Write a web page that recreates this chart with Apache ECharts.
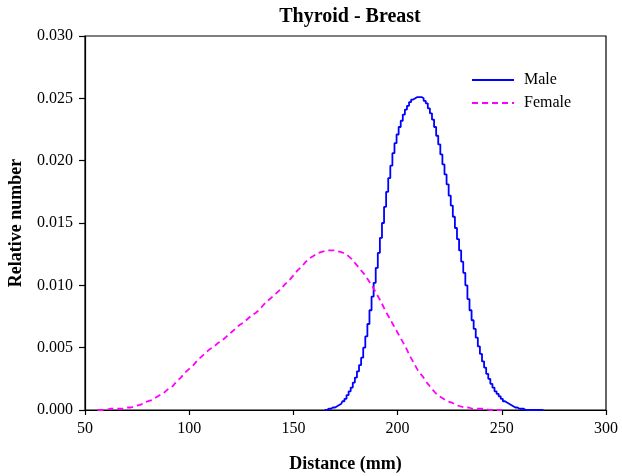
<!DOCTYPE html>
<html>
<head>
<meta charset="utf-8">
<script src="https://cdn.jsdelivr.net/npm/echarts@6/dist/echarts.min.js"></script>
<style>html,body{margin:0;padding:0;background:#fff}#c{width:622px;height:476px}</style>
</head>
<body>
<div id="c"></div>
<script>
const title = "Thyroid - Breast";
const xName = "Distance (mm)";
const yName = "Relative number";
const xTicks = [50, 100, 150, 200, 250, 300];
const yTicks = [0.000, 0.005, 0.010, 0.015, 0.020, 0.025, 0.030];

// Male: 1 mm bins starting at 165 mm
const maleStart = 165;
const maleValues = [
  0.0000,0.0000,0.0001,0.0001,0.0002,0.0002,0.0003,0.0004,0.0005,0.0007,
  0.0009,0.0012,0.0015,0.0018,0.0022,0.0026,0.0031,0.0036,0.0042,0.0050,
  0.0059,0.0069,0.0080,0.0091,0.0102,0.0114,0.0126,0.0138,0.0150,0.0163,
  0.0175,0.0186,0.0196,0.0206,0.0214,0.0221,0.0227,0.0232,0.0237,0.0241,
  0.0244,0.0247,0.0249,0.0250,0.0251,0.0251,0.0251,0.0250,0.0248,0.0246,
  0.0242,0.0238,0.0233,0.0227,0.0220,0.0213,0.0205,0.0197,0.0189,0.0181,
  0.0172,0.0164,0.0155,0.0146,0.0137,0.0128,0.0119,0.0110,0.0100,0.0089,
  0.0080,0.0072,0.0065,0.0058,0.0051,0.0045,0.0039,0.0034,0.0029,0.0025,
  0.0021,0.0018,0.0015,0.0013,0.0011,0.0009,0.0007,0.0006,0.0005,0.0004,
  0.0003,0.0002,0.0002,0.0001,0.0001,0.0001,0.0000,0.0000,0.0000,0.0000,
  0.0000,0.0000,0.0000,0.0000,0.0000,0.0000
];

// Female: 2 mm spacing starting at 56 mm
const femaleStart = 56;
const femaleStep = 2;
const femaleValues = [
  0.0000,0.0000,0.0000,0.0001,0.0001,0.0001,0.0001,0.0002,0.0002,0.0003,
  0.0004,0.0005,0.0007,0.0008,0.0010,0.0012,0.0014,0.0017,0.0019,0.0023,
  0.0026,0.0030,0.0033,0.0036,0.0040,0.0043,0.0046,0.0049,0.0051,0.0054,
  0.0056,0.0059,0.0062,0.0065,0.0068,0.0070,0.0073,0.0076,0.0078,0.0081,
  0.0085,0.0088,0.0091,0.0094,0.0097,0.0101,0.0104,0.0108,0.0112,0.0115,
  0.0119,0.0122,0.0124,0.0126,0.0127,0.0128,0.0128,0.0128,0.0127,0.0126,
  0.0124,0.0121,0.0117,0.0113,0.0109,0.0104,0.0099,0.0093,0.0087,0.0080,
  0.0074,0.0068,0.0062,0.0056,0.0050,0.0043,0.0037,0.0031,0.0027,0.0022,
  0.0018,0.0014,0.0011,0.0009,0.0007,0.0006,0.0004,0.0003,0.0002,0.0002,
  0.0001,0.0001,0.0001,0.0001,0.0000,0.0000,0.0000,0.0000
];

const maleData = maleValues.map((v, i) => [maleStart + i, v]);
const femaleData = femaleValues.map((v, i) => [femaleStart + i * femaleStep, v]);

const font = "'Liberation Serif', 'Times New Roman', serif";
const chart = echarts.init(document.getElementById('c'), null, {renderer: 'canvas'});
chart.setOption({
  animation: false,
  backgroundColor: '#fff',
  title: {
    text: title, left: 345, top: 2, textAlign: 'center',
    textStyle: {fontFamily: font, fontWeight: 'bold', fontSize: 20, color: '#000'}
  },
  legend: {
    orient: 'vertical', left: 466, top: 67, itemWidth: 42, itemHeight: 14, itemGap: 7,
    itemStyle: {opacity: 0},
    textStyle: {fontFamily: font, fontSize: 16, color: '#000', padding: [0, 0, 0, 5]},
    data: ['Male', 'Female']
  },
  grid: {left: 85, right: 16, top: 36, bottom: 66, outerBoundsMode: 'none', containLabel: false,
    show: true, borderColor: '#000', borderWidth: 1.2, backgroundColor: 'transparent'},
  xAxis: {
    type: 'value', min: xTicks[0], max: xTicks[xTicks.length - 1], interval: 50,
    name: xName, nameLocation: 'middle', nameGap: 45,
    nameTextStyle: {fontFamily: font, fontWeight: 'bold', fontSize: 18, color: '#000'},
    axisLine: {show: true, lineStyle: {color: '#000', width: 1.2}},
    axisTick: {show: true, inside: false, length: 5, lineStyle: {color: '#000', width: 1.2}},
    axisLabel: {fontFamily: font, fontSize: 16, color: '#000', margin: 11},
    splitLine: {show: false}
  },
  yAxis: {
    type: 'value', min: yTicks[0], max: yTicks[yTicks.length - 1], interval: 0.005,
    name: yName, nameLocation: 'middle', nameGap: 60, nameRotate: 90,
    nameTextStyle: {fontFamily: font, fontWeight: 'bold', fontSize: 18, color: '#000'},
    axisLine: {show: true, lineStyle: {color: '#000', width: 1.2}},
    axisTick: {show: true, inside: false, length: 6, lineStyle: {color: '#000', width: 1.2}},
    axisLabel: {fontFamily: font, fontSize: 16, color: '#000', margin: 12, formatter: v => v.toFixed(3)},
    splitLine: {show: false}
  },
  series: [
    {
      name: 'Male', type: 'line', data: maleData, step: 'middle', showSymbol: false, symbol: 'none',
      lineStyle: {color: '#0000ff', width: 1.8}, itemStyle: {color: '#0000ff'}
    },
    {
      name: 'Female', type: 'line', data: femaleData, showSymbol: false, symbol: 'none',
      lineStyle: {color: '#ff00ff', width: 1.8, type: [6, 4]}, itemStyle: {color: '#ff00ff'}
    }
  ]
});
</script>
</body>
</html>
